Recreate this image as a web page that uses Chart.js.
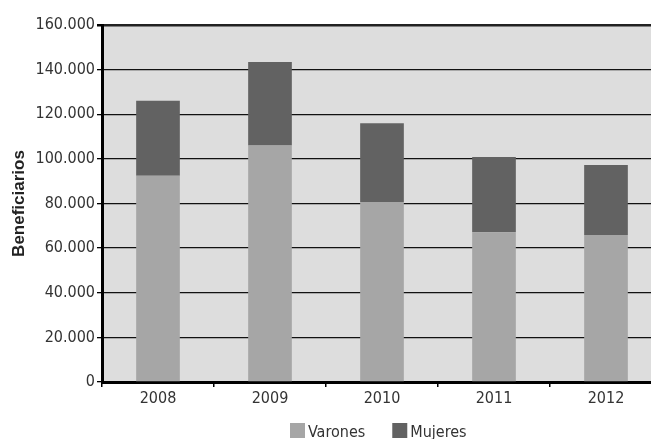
<!DOCTYPE html>
<html>
<head>
<meta charset="utf-8">
<script src="https://cdn.jsdelivr.net/npm/chart.js@4/dist/chart.umd.min.js"></script>
<style>
  html, body { margin: 0; padding: 0; background: #fff; overflow: hidden; }
  #wrap { width: 670px; height: 439px; }
</style>
</head>
<body>
<div id="wrap"><canvas id="chart" width="670" height="439"></canvas></div>
<script>
const years = ['2008', '2009', '2010', '2011', '2012'];
const varones = [92400, 106000, 80700, 67100, 65900];
const mujeres = [33700, 37400, 35300, 33700, 31400];
const yTicks = [0, 20000, 40000, 60000, 80000, 100000, 120000, 140000, 160000];

const narrowFont = "'DejaVu Sans Condensed', 'Liberation Sans', sans-serif";
const titleFont = "'Liberation Sans', Arial, sans-serif";

const formatThousands = (v) => String(v).replace(/\B(?=(\d{3})+(?!\d))/g, '.');

// fill the plot area with the grey background before anything else is drawn
const plotBackground = {
  id: 'plotBackground',
  beforeDraw(chart) {
    const { ctx, chartArea } = chart;
    ctx.save();
    ctx.fillStyle = '#dddddd';
    ctx.fillRect(chartArea.left, chartArea.top, chartArea.right - chartArea.left, chartArea.bottom - chartArea.top);
    ctx.restore();
  },
};

// small legend under the axis, boxes close to their text and wide gap between items
const bottomLegend = {
  id: 'bottomLegend',
  afterDraw(chart) {
    const { ctx } = chart;
    const y = 423;
    let x = 290;
    ctx.save();
    ctx.font = '16px ' + narrowFont;
    ctx.textBaseline = 'alphabetic';
    chart.data.datasets.forEach((ds) => {
      ctx.fillStyle = ds.backgroundColor;
      ctx.fillRect(x, y, 15, 15);
      ctx.fillStyle = '#333';
      ctx.fillText(ds.label, x + 18, y + 14);
      x += 18 + ctx.measureText(ds.label).width + 27;
    });
    ctx.restore();
  },
};

new Chart(document.getElementById('chart'), {
  type: 'bar',
  data: {
    labels: years,
    datasets: [
      {
        label: 'Varones',
        data: varones,
        backgroundColor: '#a6a6a6',
        borderWidth: 0,
        barPercentage: 0.39,
        categoryPercentage: 1,
      },
      {
        label: 'Mujeres',
        data: mujeres,
        backgroundColor: '#626262',
        borderWidth: 0,
        barPercentage: 0.39,
        categoryPercentage: 1,
      },
    ],
  },
  options: {
    responsive: false,
    animation: false,
    layout: {
      padding: { top: 25, right: 8, left: 0, bottom: 27 },
    },
    plugins: {
      legend: { display: false },
      tooltip: { enabled: false },
    },
    scales: {
      x: {
        stacked: true,
        grid: {
          offset: true,
          drawOnChartArea: false,
          drawTicks: true,
          tickLength: 5,
          color: '#000',
          lineWidth: 1.5,
        },
        border: { color: '#000', width: 3 },
        ticks: {
          color: '#333',
          padding: 2,
          font: { family: narrowFont, size: 16 },
        },
        afterFit(scale) {
          scale.height = 30;
        },
      },
      y: {
        stacked: true,
        min: 0,
        max: 160000,
        afterBuildTicks(scale) {
          scale.ticks = yTicks.map((value) => ({ value }));
        },
        grid: {
          color: (c) => (c.tick && c.tick.value === 160000 ? '#222' : '#111'),
          lineWidth: (c) => (c.tick && c.tick.value === 160000 ? 2.5 : 1.3),
          tickLength: 5,
          tickColor: '#000',
        },
        border: { color: '#000', width: 3 },
        ticks: {
          color: '#333',
          padding: 2,
          font: { family: narrowFont, size: 16 },
          callback: (v) => formatThousands(v),
        },
        title: {
          display: true,
          text: 'Beneficiarios',
          color: '#222',
          padding: { top: 9, bottom: 0 },
          font: { family: titleFont, size: 17, weight: 'bold' },
        },
        afterFit(scale) {
          scale.width = 102;
        },
      },
    },
  },
  plugins: [plotBackground, bottomLegend],
});
</script>
</body>
</html>
